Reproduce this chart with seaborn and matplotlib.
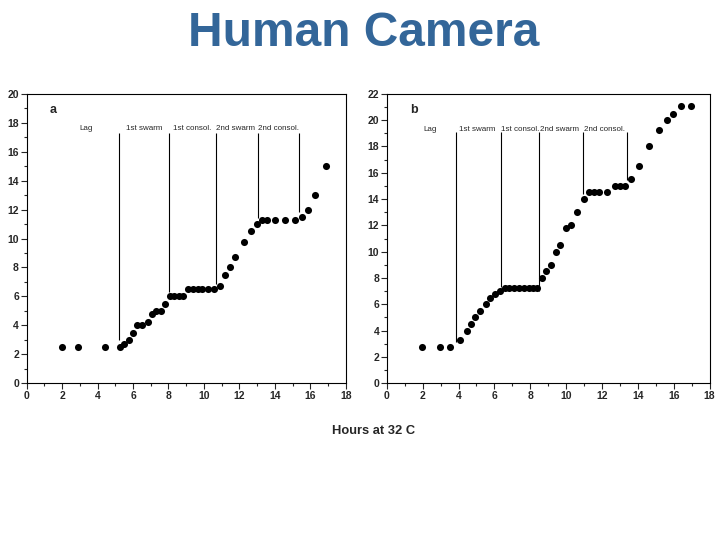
import numpy as np
import pandas as pd
import matplotlib
matplotlib.use("Agg")
import matplotlib.pyplot as plt
import seaborn as sns
from matplotlib.ticker import MultipleLocator

# panel a
hours_a = [2.0, 2.87, 4.41, 5.25, 5.48, 5.76, 6.02, 6.25, 6.53, 6.83, 7.09, 7.32, 7.56,
           7.82, 8.1, 8.33, 8.57, 8.84, 9.12, 9.38, 9.64, 9.9, 10.24, 10.54, 10.88,
           11.2, 11.48, 11.76, 12.23, 12.68, 13.0, 13.25, 13.58, 13.98, 14.58, 15.14,
           15.53, 15.89, 16.28, 16.9]
size_a = [2.5, 2.5, 2.5, 2.5, 2.7, 3.0, 3.5, 4.0, 4.0, 4.25, 4.75, 5.0, 5.0,
          5.5, 6.0, 6.0, 6.0, 6.0, 6.5, 6.5, 6.5, 6.5, 6.5, 6.5, 6.75,
          7.5, 8.0, 8.75, 9.75, 10.5, 11.0, 11.25, 11.25, 11.25, 11.25, 11.25,
          11.5, 12.0, 13.0, 15.0]
phase_x_a = [5.22, 8.03, 10.68, 13.04, 15.35]
phase_bottom_a = [3.0, 6.3, 6.85, 11.45, 11.85]
phase_top_a = 17.3
label_x_a = [3.0, 5.6, 8.25, 10.7, 13.04]
label_y_a = 17.6

# panel b
hours_b = [1.98, 2.96, 3.51, 4.07, 4.47, 4.69, 4.92, 5.2, 5.54, 5.75, 6.03, 6.31,
           6.58, 6.84, 7.11, 7.39, 7.63, 7.9, 8.16, 8.39, 8.63, 8.88, 9.14, 9.44,
           9.67, 10.0, 10.29, 10.63, 10.97, 11.29, 11.53, 11.82, 12.25, 12.7, 13.02,
           13.27, 13.61, 14.04, 14.62, 15.19, 15.64, 15.94, 16.38, 16.96]
size_b = [2.75, 2.75, 2.75, 3.25, 4.0, 4.5, 5.0, 5.5, 6.0, 6.5, 6.75, 7.0,
          7.25, 7.25, 7.25, 7.25, 7.25, 7.25, 7.25, 7.25, 8.0, 8.5, 9.0, 10.0,
          10.5, 11.8, 12.0, 13.0, 14.0, 14.5, 14.5, 14.5, 14.5, 15.0, 15.0,
          15.0, 15.5, 16.5, 18.0, 19.25, 20.0, 20.5, 21.1, 21.1]
phase_x_b = [3.83, 6.37, 8.46, 10.93, 13.38]
phase_bottom_b = [3.1, 7.35, 7.0, 14.4, 15.45]
phase_top_b = 19.1
label_x_b = [2.05, 4.0, 6.39, 8.52, 10.99]
label_y_b = 19.3

phase_labels = ["Lag", "1st swarm", "1st consol.", "2nd swarm", "2nd consol."]

sns.set_style("white")
plt.rcParams["font.family"] = ["Liberation Sans", "DejaVu Sans"]

fig = plt.figure(figsize=(7.19, 5.39), dpi=100)
ax_a = fig.add_axes([0.037, 0.289, 0.444, 0.537])
ax_b = fig.add_axes([0.538, 0.289, 0.449, 0.537])

panels = [
    (ax_a, hours_a, size_a, phase_x_a, phase_bottom_a, phase_top_a, label_x_a, label_y_a, 20, "a", 18.85),
    (ax_b, hours_b, size_b, phase_x_b, phase_bottom_b, phase_top_b, label_x_b, label_y_b, 22, "b", 20.8),
]

for ax, hx, hy, px, pb, pt, lx, ly, ymax, letter, let_y in panels:
    df = pd.DataFrame({"hours": hx, "size": hy})
    sns.scatterplot(data=df, x="hours", y="size", ax=ax, color="black",
                    s=26, edgecolor="black", linewidth=0)
    ax.vlines(px, pb, pt, color="black", linewidth=0.8)
    for x, t in zip(lx, phase_labels):
        ax.text(x, ly, t, fontsize=5.8, ha="left", va="center")
    ax.text(1.3, let_y, letter, fontsize=9, fontweight="bold", ha="left", va="center")
    ax.set_xlim(0, 18)
    ax.set_ylim(0, ymax)
    ax.xaxis.set_major_locator(MultipleLocator(2))
    ax.xaxis.set_minor_locator(MultipleLocator(1))
    ax.yaxis.set_major_locator(MultipleLocator(2))
    ax.yaxis.set_minor_locator(MultipleLocator(1))
    ax.tick_params(which="major", direction="out", length=4, width=0.8,
                   labelsize=7.5, bottom=True, left=True, pad=1.5)
    ax.tick_params(which="minor", direction="out", length=2, width=0.8,
                   bottom=True, left=True)
    for lab in ax.get_xticklabels() + ax.get_yticklabels():
        lab.set_fontweight("bold")
    for sp in ax.spines.values():
        sp.set_color("black")
        sp.set_linewidth(0.8)
    ax.set_xlabel("")
    ax.set_ylabel("")

fig.text(0.506, 0.937, "Human Camera", ha="center", va="center",
         fontsize=34.5, fontweight="bold", color="#336699")
fig.text(0.52, 0.2, "Hours at 32 C", ha="center", va="center",
         fontsize=9.3, fontweight="bold")

fig.savefig("out.png", dpi=100)
